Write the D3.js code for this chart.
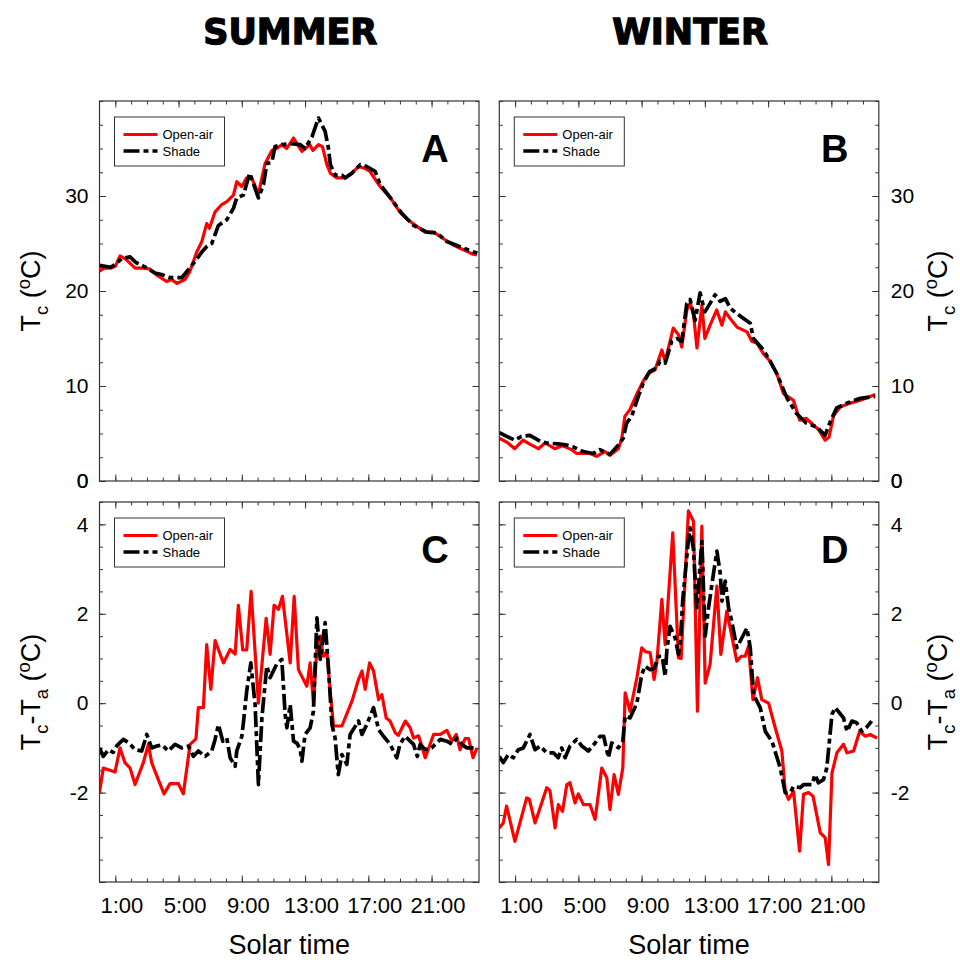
<!DOCTYPE html>
<html>
<head>
<meta charset="utf-8">
<script src="https://cdn.jsdelivr.net/npm/d3@7"></script>
<style>
  body { margin: 0; background: #fff; }
  svg text { font-family: "Liberation Sans", Arial, sans-serif; fill: #000; }
</style>
</head>
<body>
<svg id="chart" width="960" height="960"></svg>
<script>
// ---- data: [solar hour, value] ----
var seasons = ["SUMMER", "WINTER"];
var seriesNames = ["Open-air", "Shade"];
var panelLetters = ["A", "B", "C", "D"];
var xTickHours = [1, 5, 9, 13, 17, 21];
var tcTicks = [0, 10, 20, 30];
var diffTicks = [-2, 0, 2, 4];

var summerTcOpen = [[0,22.1],[0.3,22.4],[0.7,22.4],[1.0,22.6],[1.3,23.7],[1.7,23.3],[2.25,22.4],[2.8,22.4],[3.2,22.3],[3.6,21.7],[4.25,21.0],[4.56,21.2],[4.9,20.8],[5.4,21.2],[5.7,22.0],[6.15,24.1],[6.47,25.2],[6.78,27.1],[6.95,26.6],[7.3,28.3],[7.73,29.1],[8.05,29.4],[8.47,30.1],[8.68,31.5],[9.0,31.0],[9.3,31.9],[9.6,32.0],[10.05,30.2],[10.47,33.4],[10.9,34.8],[11.2,35.0],[11.53,35.4],[11.84,35.0],[12.27,36.1],[12.8,34.7],[13.3,35.4],[13.5,34.8],[13.85,35.4],[14.1,35.2],[14.38,33.3],[14.6,32.4],[15.0,31.9],[15.5,31.9],[15.96,32.4],[16.38,33.1],[16.8,32.9],[17.1,32.6],[17.54,31.5],[17.75,31.0],[18.4,29.8],[19.0,28.3],[19.5,27.5],[20.07,26.8],[20.6,26.2],[21.13,26.2],[21.76,25.5],[22.2,25.0],[22.8,24.5],[23.34,24.1],[23.56,23.9],[23.87,23.8]];
var summerTcShade = [[0,22.7],[0.7,22.5],[1.0,22.8],[1.4,23.4],[1.93,23.6],[2.3,23.0],[2.8,22.6],[3.5,21.9],[4.0,21.7],[4.46,21.4],[5.2,21.4],[5.5,22.0],[6.04,23.1],[6.47,24.1],[6.8,24.7],[7.1,25.0],[7.3,25.9],[7.52,26.9],[8.05,27.5],[8.47,28.7],[8.68,29.8],[9.1,30.1],[9.5,32.4],[10.05,29.8],[10.37,31.2],[10.58,33.4],[10.9,33.6],[11.1,35.2],[11.53,35.4],[12.06,35.5],[12.7,35.4],[13.0,35.0],[13.43,36.2],[13.85,38.2],[14.27,36.8],[14.48,35.0],[14.6,33.3],[14.9,32.2],[15.33,32.2],[15.54,31.9],[15.96,32.4],[16.5,33.3],[16.9,33.1],[17.43,32.6],[17.75,31.2],[18.4,29.8],[19.1,28.2],[19.86,26.9],[20.7,26.2],[21.34,26.1],[21.97,25.2],[22.6,24.8],[23.2,24.4],[23.66,24.1],[23.9,24.0]];
var winterTcOpen = [[0,4.5],[0.47,4.1],[0.98,3.4],[1.5,4.3],[1.9,3.9],[2.47,3.4],[2.9,4.0],[3.5,3.4],[4.0,3.7],[4.57,3.3],[4.89,2.9],[5.73,2.9],[6.15,2.6],[6.68,3.1],[7.0,2.7],[7.53,3.4],[7.75,4.5],[7.94,6.8],[8.26,7.5],[8.68,9.1],[9.1,10.5],[9.42,11.3],[9.85,11.7],[10.28,13.8],[10.49,12.6],[11.0,16.1],[11.33,15.4],[11.54,14.1],[11.86,18.0],[12.07,18.7],[12.28,17.6],[12.5,14.0],[12.81,18.5],[13.0,15.0],[13.33,16.4],[13.75,18.0],[14.08,16.4],[14.3,17.8],[14.6,17.1],[15.03,16.2],[15.66,15.7],[15.97,14.7],[16.3,14.5],[16.7,13.4],[17.13,12.6],[17.55,11.3],[17.97,9.2],[18.6,8.5],[19.0,6.4],[19.4,6.6],[19.86,5.9],[20.2,5.4],[20.6,4.3],[20.85,4.6],[21.14,6.9],[21.56,7.8],[22.2,8.2],[22.83,8.5],[23.46,8.9],[23.77,9.1]];
var winterTcShade = [[0,5.1],[0.47,4.7],[0.98,4.3],[1.4,4.7],[1.93,4.8],[2.58,4.2],[3.0,4.0],[3.72,3.9],[4.2,3.8],[4.67,3.6],[5.3,3.1],[5.94,2.9],[6.36,3.3],[7.0,2.8],[7.53,3.8],[7.84,4.5],[8.05,6.1],[8.37,6.8],[8.79,8.9],[9.1,10.3],[9.5,11.5],[9.95,11.9],[10.16,12.6],[10.49,12.4],[10.9,14.7],[11.23,15.0],[11.54,14.7],[11.86,18.7],[12.07,19.1],[12.38,16.9],[12.7,19.8],[13.0,17.8],[13.33,18.7],[13.65,19.6],[13.97,18.9],[14.3,19.2],[14.6,18.2],[15.03,17.6],[15.45,17.1],[15.87,16.6],[16.07,15.0],[16.7,13.8],[17.13,12.6],[17.55,11.3],[18.2,8.7],[18.8,7.1],[19.4,6.1],[20.07,5.7],[20.6,4.8],[20.92,6.2],[21.34,7.7],[22.0,8.2],[22.83,8.7],[23.77,8.9]];
var summerDiffOpen = [[0,-2.0],[0.24,-1.45],[0.66,-1.5],[0.98,-1.54],[1.3,-1.0],[1.61,-1.33],[1.93,-1.45],[2.25,-1.82],[2.77,-1.33],[3.09,-0.92],[3.3,-1.33],[3.72,-1.71],[4.08,-2.03],[4.46,-1.8],[4.99,-1.8],[5.3,-2.03],[5.73,-0.92],[6.1,-0.8],[6.25,-0.1],[6.57,-0.1],[6.78,1.31],[7.04,0.31],[7.31,1.4],[7.84,0.9],[8.26,1.2],[8.58,1.1],[8.78,2.19],[9.06,1.19],[9.31,1.19],[9.59,2.5],[10.05,0.0],[10.54,1.9],[10.79,1.09],[11.04,2.19],[11.32,2.1],[11.57,2.39],[12.06,0.9],[12.31,2.39],[12.58,0.75],[13.11,0.38],[13.32,0.9],[13.53,0.0],[13.75,1.24],[13.96,1.5],[14.16,1.05],[14.38,1.16],[14.59,0.27],[14.8,-0.51],[15.33,-0.51],[15.96,0.04],[16.38,0.53],[16.6,0.72],[16.8,0.31],[17.08,0.9],[17.33,0.72],[17.65,0.08],[17.86,0.19],[18.13,-0.33],[18.38,-0.4],[18.7,-0.66],[18.9,-0.72],[19.34,-0.4],[19.65,-0.55],[19.86,-0.78],[20.18,-0.73],[20.6,-1.22],[21.13,-0.7],[21.55,-0.7],[21.97,-0.61],[22.29,-0.85],[22.56,-0.7],[22.8,-1.04],[23.13,-0.79],[23.34,-0.79],[23.62,-1.22],[23.87,-1.0]];
var summerDiffShade = [[0,-1.0],[0.24,-1.19],[0.56,-1.04],[0.87,-1.1],[1.1,-0.95],[1.51,-0.81],[1.9,-0.9],[2.25,-1.04],[2.67,-1.07],[2.99,-0.7],[3.3,-1.0],[3.62,-0.96],[3.95,-0.93],[4.35,-1.07],[4.78,-0.92],[5.2,-1.0],[5.62,-0.96],[5.94,-1.19],[6.25,-1.07],[6.68,-1.19],[7.1,-1.07],[7.31,-0.81],[7.52,-0.48],[7.8,-0.85],[8.05,-0.78],[8.26,-1.22],[8.58,-1.41],[8.68,-1.07],[9.0,-0.74],[9.1,-0.44],[9.31,0.27],[9.57,0.9],[9.84,-0.03],[10.05,-1.82],[10.27,-0.33],[10.47,0.42],[10.58,0.83],[10.79,0.57],[11.2,0.87],[11.53,0.98],[11.74,-0.25],[11.85,-0.55],[12.06,-0.03],[12.27,-0.85],[12.5,-0.9],[12.69,-1.04],[12.8,-1.3],[13.0,-0.7],[13.32,-0.55],[13.53,-0.18],[13.75,1.91],[13.96,0.98],[14.27,1.8],[14.48,0.79],[14.7,-0.48],[14.9,-0.78],[15.1,-1.6],[15.33,-1.15],[15.64,-1.37],[15.85,-0.7],[16.38,-0.4],[16.6,-0.7],[16.9,-0.48],[17.33,-0.1],[17.65,-0.59],[17.96,-0.74],[18.38,-0.92],[18.8,-1.22],[19.0,-0.92],[19.33,-0.74],[19.86,-0.92],[20.1,-1.19],[20.28,-0.92],[20.6,-1.04],[21.0,-1.0],[21.55,-0.81],[21.97,-0.85],[22.29,-0.92],[22.6,-0.78],[22.9,-0.92],[23.23,-1.0],[23.87,-1.0]];
var winterDiffOpen = [[0,-2.79],[0.25,-2.68],[0.46,-2.3],[0.99,-3.09],[1.73,-2.12],[1.9,-2.15],[2.26,-2.68],[3.0,-1.89],[3.2,-1.95],[3.53,-2.79],[3.73,-2.27],[4.0,-2.42],[4.27,-1.82],[4.47,-1.78],[4.79,-2.23],[5.0,-2.03],[5.32,-2.27],[5.74,-2.27],[6.06,-2.6],[6.48,-1.45],[6.8,-1.67],[7.0,-2.38],[7.26,-1.6],[7.53,-2.04],[7.81,-1.45],[7.96,0.23],[8.27,-0.18],[8.7,0.57],[9.01,1.24],[9.25,1.15],[9.54,1.13],[9.79,0.53],[9.96,0.9],[10.28,2.32],[10.49,1.31],[10.97,3.81],[11.33,1.01],[11.5,1.0],[11.96,4.3],[12.1,4.2],[12.28,4.07],[12.53,-0.18],[12.81,3.96],[13.02,0.45],[13.33,0.87],[13.76,2.62],[14.01,1.09],[14.39,2.06],[15.02,0.94],[15.3,1.05],[15.55,1.05],[15.76,1.28],[16.04,0.08],[16.33,0.57],[16.6,0.08],[17.03,0.0],[17.45,-0.55],[17.87,-1.07],[18.08,-1.97],[18.29,-2.15],[18.61,-1.97],[18.99,-3.31],[19.24,-2.04],[19.56,-2.0],[19.84,-2.08],[20.3,-2.9],[20.61,-3.01],[20.82,-3.61],[21.04,-1.56],[21.35,-1.11],[21.77,-0.92],[21.99,-1.11],[22.41,-1.07],[22.79,-0.63],[23.15,-0.74],[23.46,-0.7],[23.89,-0.78]];
var winterDiffShade = [[0,-1.19],[0.25,-1.33],[0.57,-1.15],[0.89,-1.22],[1.2,-1.04],[1.52,-1.0],[1.94,-0.7],[2.26,-1.04],[2.58,-0.96],[3.0,-1.11],[3.42,-1.11],[3.73,-1.22],[3.95,-1.0],[4.16,-1.22],[4.47,-0.96],[4.9,-0.81],[5.22,-0.96],[5.63,-1.07],[6.06,-0.89],[6.37,-0.74],[6.6,-0.74],[6.9,-1.22],[7.11,-0.89],[7.53,-1.0],[7.81,-0.85],[7.96,-0.29],[8.27,-0.33],[8.7,0.0],[9.01,0.64],[9.22,0.83],[9.54,0.75],[9.8,0.78],[10.06,1.05],[10.3,1.05],[10.49,0.6],[10.6,1.2],[10.8,1.72],[11.12,1.46],[11.33,1.09],[11.44,1.31],[11.6,2.3],[11.96,3.66],[12.07,3.92],[12.28,3.44],[12.49,2.13],[12.6,2.6],[12.81,3.62],[13.02,1.5],[13.23,2.13],[13.55,2.91],[13.76,3.4],[13.97,2.91],[14.08,2.28],[14.29,2.73],[14.5,2.13],[14.72,1.8],[15.02,1.24],[15.66,1.68],[15.87,1.24],[16.08,0.19],[16.5,-0.1],[16.82,-0.63],[17.24,-0.85],[17.77,-1.45],[18.08,-2.0],[18.4,-2.0],[18.61,-1.86],[19.03,-1.89],[19.24,-1.82],[19.77,-1.82],[19.97,-1.6],[20.18,-1.78],[20.5,-1.71],[20.71,-1.45],[21.04,-0.25],[21.24,-0.1],[21.77,-0.33],[21.99,-0.63],[22.3,-0.4],[22.6,-0.44],[22.92,-0.63],[23.2,-0.55],[23.55,-0.4]];

// ---- layout ----
var svg = d3.select("#chart");
var pw = 379.5, ph = 380;
var lefts = [99.5, 499.3], tops = [101, 502];
var openColor = "#ff0000", shadeColor = "#000";
var shadeDash = "16,4,5,4";

// title label parts: [text, "n" | "sub" | "sup"]
var tcLabel = [["T","n"],["c","sub"],[" (","n"],["o","sup"],["C)","n"]];
var diffLabel = [["T","n"],["c","sub"],["-T","n"],["a","sub"],[" (","n"],["o","sup"],["C)","n"]];

function richText(sel, parts, size) {
  var shift = 0;
  parts.forEach(function (p) {
    var target = p[1] === "sub" ? 0.28 * size : p[1] === "sup" ? -0.38 * size : 0;
    sel.append("tspan")
      .attr("dy", target - shift)
      .style("font-size", (p[1] === "n" ? size : size * 0.68) + "px")
      .text(p[0]);
    shift = target;
  });
}

var panels = [
  { col: 0, row: 0, open: summerTcOpen, shade: summerTcShade, dom: [0, 40], major: tcTicks, minorStep: 2.5, label: tcLabel },
  { col: 1, row: 0, open: winterTcOpen, shade: winterTcShade, dom: [0, 40], major: tcTicks, minorStep: 2.5, label: tcLabel },
  { col: 0, row: 1, open: summerDiffOpen, shade: summerDiffShade, dom: [-4, 4.5], major: diffTicks, minorStep: 0.5, label: diffLabel },
  { col: 1, row: 1, open: winterDiffOpen, shade: winterDiffShade, dom: [-4, 4.5], major: diffTicks, minorStep: 0.5, label: diffLabel }
];

// season titles
seasons.forEach(function (s, i) {
  svg.append("text")
    .attr("x", lefts[i] + pw / 2 + 1)
    .attr("y", 44)
    .attr("text-anchor", "middle")
    .style("font-family", "'DejaVu Sans', sans-serif")
    .style("font-weight", "900")
    .style("font-size", "35px")
    .style("stroke", "#000")
    .style("stroke-width", "1.3px")
    .text(s);
});

panels.forEach(function (p, i) {
  var g = svg.append("g")
    .attr("transform", "translate(" + lefts[p.col] + "," + tops[p.row] + ")");

  var x = d3.scaleLinear().domain([0, 24]).range([0, pw]);
  var y = d3.scaleLinear().domain(p.dom).range([ph, 0]);

  var minorY = d3.range(p.dom[0], p.dom[1] + 0.001, p.minorStep);
  var majorY = p.major.concat([p.dom[0]]);
  var minorX = d3.range(1, 24, 1);

  function addAxis(axis, tx, ty) {
    var a = g.append("g")
      .attr("transform", "translate(" + tx + "," + ty + ")")
      .call(axis);
    a.select(".domain").remove();
    a.selectAll("line").attr("stroke", "#333");
    return a;
  }

  // minor ticks, all four sides
  addAxis(d3.axisLeft(y).tickValues(minorY).tickSize(-3.5).tickFormat(""), 0, 0);
  addAxis(d3.axisRight(y).tickValues(minorY).tickSize(-3.5).tickFormat(""), pw, 0);
  addAxis(d3.axisBottom(x).tickValues(minorX).tickSize(-3.5).tickFormat(""), 0, ph);
  addAxis(d3.axisTop(x).tickValues(minorX).tickSize(-3.5).tickFormat(""), 0, 0);

  // major ticks
  var yl = addAxis(d3.axisLeft(y).tickValues(majorY).tickSize(-6.5).tickPadding(11)
    .tickFormat(function (d) { return p.col === 0 && p.major.indexOf(d) >= 0 ? String(d) : ""; }), 0, 0);
  var yr = addAxis(d3.axisRight(y).tickValues(majorY).tickSize(-6.5).tickPadding(12)
    .tickFormat(function (d) { return p.col === 1 && p.major.indexOf(d) >= 0 ? String(d) : ""; }), pw, 0);
  var xb = addAxis(d3.axisBottom(x).tickValues(xTickHours).tickSize(-6.5).tickPadding(15)
    .tickFormat(function (d) { return p.row === 1 ? d + ":00" : ""; }), 0, ph);
  addAxis(d3.axisTop(x).tickValues(xTickHours).tickSize(-6.5).tickFormat(""), 0, 0);

  [yl, yr].forEach(function (a) {
    a.selectAll("text").style("font-size", "21px").style("font-family", "'Liberation Sans', Arial, sans-serif").attr("fill", "#000");
  });
  xb.selectAll("text").style("font-size", "22px").style("font-family", "'Liberation Sans', Arial, sans-serif")
    .attr("fill", "#000").attr("dx", 6);

  // lines
  g.append("clipPath").attr("id", "clip" + i)
    .append("rect").attr("width", pw).attr("height", ph);

  var line = d3.line()
    .x(function (d) { return x(d[0]); })
    .y(function (d) { return y(d[1]); });

  var plot = g.append("g").attr("clip-path", "url(#clip" + i + ")");
  plot.append("path").datum(p.open)
    .attr("d", line).attr("fill", "none")
    .attr("stroke", openColor).attr("stroke-width", 3.2)
    .attr("stroke-linejoin", "round");
  plot.append("path").datum(p.shade)
    .attr("d", line).attr("fill", "none")
    .attr("stroke", shadeColor).attr("stroke-width", 3.7)
    .attr("stroke-dasharray", shadeDash)
    .attr("stroke-linejoin", "round");

  // frame
  g.append("rect").attr("width", pw).attr("height", ph)
    .attr("fill", "none").attr("stroke", "#333").attr("stroke-width", 1.2);

  // legend
  var lg = g.append("g").attr("transform", "translate(15,16)");
  lg.append("rect").attr("width", 110).attr("height", 49)
    .attr("fill", "#fff").attr("stroke", "#333").attr("stroke-width", 1);
  [openColor, shadeColor].forEach(function (c, k) {
    lg.append("line")
      .attr("x1", 9).attr("x2", 43)
      .attr("y1", 17.5 + k * 16.5).attr("y2", 17.5 + k * 16.5)
      .attr("stroke", c).attr("stroke-width", k ? 3.7 : 3.2)
      .attr("stroke-dasharray", k ? shadeDash : null);
    lg.append("text")
      .attr("x", 48).attr("y", 17.5 + k * 16.5)
      .attr("dy", "0.35em")
      .style("font-size", "13px")
      .text(seriesNames[k]);
  });

  // panel letter
  g.append("text")
    .attr("x", pw - 44).attr("y", 60.5)
    .attr("text-anchor", "middle")
    .style("font-weight", "bold")
    .style("font-size", "38px")
    .text(panelLetters[i]);

  // y axis title
  var ty = tops[p.row] + ph / 2;
  var tx = p.col === 0 ? 40 : 947;
  var t = svg.append("text")
    .attr("transform", "translate(" + tx + "," + ty + ") rotate(-90)")
    .attr("text-anchor", "middle")
    .style("font-size", "27px");
  richText(t, p.label, 27);

  // x axis title
  if (p.row === 1) {
    svg.append("text")
      .attr("x", lefts[p.col] + pw / 2)
      .attr("y", 954)
      .attr("text-anchor", "middle")
      .style("font-size", "27px")
      .text("Solar time");
  }
});
</script>
</body>
</html>
